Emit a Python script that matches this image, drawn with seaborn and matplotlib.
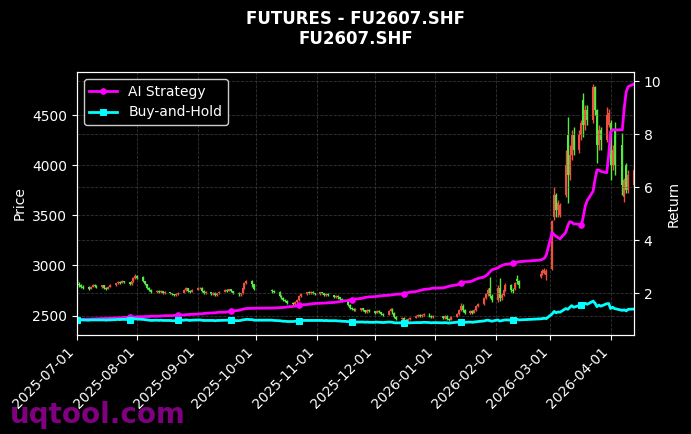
import matplotlib
matplotlib.use("Agg")
import matplotlib.pyplot as plt
import matplotlib.dates as mdates
import seaborn as sns
import pandas as pd
import numpy as np

plt.style.use("dark_background")

# trading days (exchange holidays removed)
holidays = ['2025-10-01', '2025-10-02', '2025-10-03', '2025-10-06', '2025-10-07', '2025-10-08',
            '2026-01-01', '2026-01-02',
            '2026-02-16', '2026-02-17', '2026-02-18', '2026-02-19', '2026-02-20', '2026-02-23',
            '2026-04-06']
dates = pd.bdate_range('2025-07-01', '2026-04-13')
dates = dates[~dates.isin(pd.to_datetime(holidays))]

opens = [
    2850, 2815, 2800, 2790, 2790, 2770, 2790, 2800, 2795, 2785, 2800, 2780, 2770, 2790, 2800, 2820, 2830, 2825, 2840, 2830, 2810, 2840, 2870,
    2890, 2880, 2840, 2810, 2780, 2760, 2740, 2750, 2740, 2745, 2730, 2735, 2725, 2715, 2705, 2720, 2730, 2760, 2775, 2750, 2740,
    2760, 2775, 2780, 2750, 2730, 2735, 2720, 2730, 2710, 2725, 2740, 2760, 2750, 2765, 2745, 2730, 2715, 2725, 2780, 2820, 2840, 2810,
    2760, 2750, 2740, 2700, 2680, 2660, 2650, 2630, 2620, 2640, 2660, 2700, 2720, 2735, 2725, 2740, 2725,
    2720, 2735, 2725, 2710, 2720, 2705, 2690, 2700, 2685, 2670, 2650, 2610, 2580, 2570, 2560, 2560, 2575, 2555, 2540, 2560,
    2545, 2530, 2550, 2535, 2520, 2510, 2550, 2570, 2530, 2490, 2470, 2480, 2460, 2450, 2465, 2480, 2500, 2510, 2495, 2505, 2520, 2500, 2490,
    2495, 2480, 2500, 2470, 2460, 2490, 2520, 2560, 2600, 2560, 2530, 2550, 2530, 2560, 2600, 2620, 2680, 2720, 2780, 2700,
    2660, 2780, 2680, 2710, 2760, 2800, 2760, 2770, 2860, 2840, 2880, 2910, 2920, 2900,
    2960, 3480, 3700, 3550, 3500, 3700, 4300, 3900, 4100, 4300, 4150, 4300, 4650, 4400, 4550, 4450, 4780, 4550, 4200, 4350, 4250, 4400,
    4420, 4000, 4350, 4200, 3680, 4000, 3750, 3800,
]
closes = [
    2815, 2800, 2790, 2780, 2770, 2790, 2800, 2795, 2785, 2800, 2780, 2770, 2790, 2800, 2820, 2830, 2825, 2840, 2830, 2810, 2840, 2870, 2890,
    2870, 2840, 2810, 2780, 2760, 2740, 2750, 2740, 2745, 2730, 2735, 2725, 2715, 2705, 2720, 2730, 2760, 2775, 2750, 2740, 2760,
    2775, 2780, 2750, 2730, 2735, 2720, 2730, 2710, 2725, 2740, 2760, 2750, 2765, 2745, 2730, 2715, 2725, 2780, 2820, 2840, 2810, 2770,
    2750, 2740, 2700, 2680, 2660, 2650, 2630, 2620, 2640, 2660, 2700, 2720, 2735, 2725, 2740, 2725, 2720,
    2735, 2725, 2710, 2720, 2705, 2690, 2700, 2685, 2670, 2650, 2610, 2580, 2570, 2560, 2570, 2575, 2555, 2540, 2560, 2545,
    2530, 2550, 2535, 2520, 2510, 2550, 2570, 2530, 2490, 2470, 2480, 2460, 2450, 2465, 2480, 2500, 2510, 2495, 2505, 2520, 2500, 2490, 2495,
    2480, 2500, 2470, 2460, 2490, 2520, 2560, 2600, 2560, 2530, 2550, 2530, 2560, 2600, 2620, 2680, 2720, 2760, 2700, 2660,
    2780, 2680, 2710, 2760, 2800, 2760, 2750, 2820, 2840, 2800, 2910, 2940, 2950, 2940,
    3440, 3700, 3550, 3620, 3600, 4000, 3900, 4100, 4300, 4150, 4300, 4420, 4400, 4550, 4450, 4780, 4550, 4200, 4350, 4250, 4500, 4520,
    4000, 4150, 4000, 3800, 3850, 3750, 3900, 3950,
]
highs = [
    2860, 2830, 2815, 2800, 2795, 2795, 2810, 2810, 2800, 2805, 2805, 2790, 2795, 2810, 2825, 2840, 2840, 2850, 2845, 2835, 2845, 2880, 2910,
    2900, 2890, 2845, 2815, 2790, 2770, 2760, 2755, 2755, 2750, 2745, 2740, 2730, 2720, 2725, 2735, 2765, 2785, 2780, 2755, 2770,
    2785, 2790, 2785, 2760, 2745, 2740, 2740, 2735, 2730, 2745, 2770, 2770, 2770, 2770, 2750, 2735, 2730, 2790, 2830, 2850, 2850, 2815,
    2770, 2760, 2745, 2710, 2690, 2670, 2660, 2640, 2650, 2670, 2710, 2725, 2740, 2745, 2745, 2745, 2730,
    2740, 2740, 2730, 2725, 2725, 2710, 2705, 2705, 2690, 2675, 2655, 2615, 2590, 2580, 2575, 2580, 2580, 2560, 2565, 2565,
    2550, 2560, 2555, 2540, 2530, 2560, 2580, 2575, 2535, 2495, 2490, 2485, 2470, 2475, 2490, 2510, 2520, 2515, 2515, 2530, 2525, 2505, 2505,
    2500, 2510, 2505, 2480, 2500, 2530, 2570, 2630, 2620, 2570, 2560, 2560, 2570, 2610, 2630, 2690, 2730, 2780, 2880, 2720,
    2800, 2870, 2730, 2770, 2820, 2810, 2780, 2830, 2900, 2850, 2930, 2960, 2970, 2960,
    3450, 3780, 3720, 3650, 3620, 4150, 4480, 4200, 4350, 4380, 4350, 4450, 4720, 4600, 4600, 4810, 4790, 4560, 4400, 4380, 4580, 4560,
    4450, 4200, 4430, 4320, 3870, 4020, 3950, 4000,
]
lows = [
    2800, 2790, 2780, 2770, 2760, 2765, 2785, 2785, 2775, 2780, 2770, 2760, 2765, 2785, 2795, 2810, 2815, 2820, 2820, 2800, 2805, 2835, 2860,
    2860, 2830, 2800, 2770, 2750, 2730, 2730, 2730, 2730, 2720, 2720, 2715, 2705, 2695, 2700, 2710, 2725, 2750, 2740, 2725, 2735,
    2755, 2765, 2740, 2720, 2720, 2705, 2710, 2700, 2700, 2715, 2735, 2740, 2745, 2735, 2720, 2700, 2700, 2720, 2770, 2810, 2790, 2760,
    2730, 2730, 2690, 2670, 2650, 2640, 2620, 2605, 2610, 2630, 2650, 2690, 2710, 2715, 2720, 2715, 2705,
    2710, 2715, 2700, 2700, 2695, 2680, 2680, 2670, 2660, 2640, 2600, 2570, 2560, 2550, 2545, 2550, 2545, 2530, 2530, 2535,
    2520, 2525, 2525, 2505, 2500, 2505, 2545, 2520, 2480, 2455, 2460, 2440, 2425, 2440, 2460, 2475, 2490, 2485, 2490, 2500, 2490, 2480, 2480,
    2465, 2470, 2455, 2450, 2455, 2485, 2510, 2550, 2540, 2520, 2520, 2520, 2525, 2550, 2590, 2610, 2670, 2700, 2680, 2640,
    2640, 2650, 2660, 2700, 2750, 2740, 2730, 2760, 2810, 2780, 2870, 2900, 2910, 2850,
    2950, 3450, 3480, 3480, 3480, 3680, 3620, 3850, 4050, 4100, 4120, 4250, 4280, 4350, 4400, 4420, 4500, 4020, 4150, 4150, 4230, 4380,
    3850, 3950, 3900, 3700, 3630, 3720, 3720, 3780,
]

strategy = [
    1.00, 1.00, 1.01, 1.01, 1.02, 1.02, 1.03, 1.03, 1.03, 1.04, 1.04, 1.05, 1.05, 1.05, 1.06, 1.06, 1.07, 1.07, 1.08, 1.09, 1.09, 1.10, 1.10,
    1.11, 1.11, 1.12, 1.12, 1.12, 1.13, 1.13, 1.13, 1.14, 1.14, 1.15, 1.15, 1.15, 1.16, 1.17, 1.17, 1.18, 1.19, 1.19, 1.20, 1.20,
    1.21, 1.22, 1.22, 1.23, 1.24, 1.25, 1.25, 1.26, 1.27, 1.28, 1.28, 1.29, 1.30, 1.32, 1.33, 1.35, 1.37, 1.39, 1.41, 1.42, 1.43, 1.43,
    1.44, 1.44, 1.45, 1.45, 1.46, 1.47, 1.48, 1.50, 1.51, 1.53, 1.55, 1.56, 1.57, 1.58, 1.59, 1.60, 1.61,
    1.62, 1.62, 1.63, 1.63, 1.64, 1.65, 1.66, 1.67, 1.68, 1.70, 1.72, 1.74, 1.76, 1.77, 1.78, 1.80, 1.82, 1.84, 1.85, 1.86,
    1.87, 1.88, 1.89, 1.90, 1.91, 1.92, 1.93, 1.94, 1.95, 1.96, 1.97, 1.98, 2.00, 2.02, 2.04, 2.06, 2.08, 2.10, 2.12, 2.14, 2.16, 2.18, 2.19,
    2.20, 2.22, 2.24, 2.26, 2.28, 2.31, 2.34, 2.38, 2.40, 2.42, 2.44, 2.46, 2.50, 2.53, 2.56, 2.61, 2.66, 2.72, 2.80, 2.88,
    2.95, 3.00, 3.04, 3.07, 3.09, 3.11, 3.13, 3.15, 3.17, 3.19, 3.25, 3.28, 3.32, 3.45,
    4.30, 4.20, 4.15, 4.10, 4.05, 4.30, 4.55, 4.70, 4.68, 4.62, 4.60, 4.57, 4.90, 5.30, 5.50, 5.85, 6.30, 6.65, 6.65, 6.60, 6.55, 7.20,
    8.10, 8.17, 8.17, 8.17, 9.00, 9.60, 9.80, 9.90,
]
buy_hold = [
    1.00, 0.99, 0.99, 0.99, 0.98, 0.99, 0.99, 0.99, 0.99, 0.99, 0.99, 0.98, 0.99, 0.99, 1.00, 1.01, 1.00, 1.01, 1.01, 1.00, 1.01, 1.02, 1.03,
    1.02, 1.01, 1.00, 0.99, 0.98, 0.97, 0.98, 0.97, 0.98, 0.97, 0.97, 0.97, 0.96, 0.96, 0.97, 0.97, 0.98, 0.99, 0.98, 0.97, 0.98,
    0.99, 0.99, 0.98, 0.97, 0.97, 0.97, 0.97, 0.96, 0.97, 0.97, 0.98, 0.98, 0.98, 0.98, 0.97, 0.96, 0.97, 0.99, 1.00, 1.01, 1.00, 0.98,
    0.98, 0.97, 0.96, 0.95, 0.94, 0.94, 0.93, 0.93, 0.94, 0.94, 0.96, 0.97, 0.97, 0.97, 0.97, 0.97, 0.97,
    0.97, 0.97, 0.96, 0.97, 0.96, 0.96, 0.96, 0.95, 0.95, 0.94, 0.93, 0.92, 0.91, 0.91, 0.91, 0.91, 0.91, 0.90, 0.91, 0.90,
    0.90, 0.91, 0.90, 0.90, 0.89, 0.91, 0.91, 0.90, 0.88, 0.88, 0.88, 0.87, 0.87, 0.88, 0.88, 0.89, 0.89, 0.89, 0.89, 0.90, 0.89, 0.88, 0.89,
    0.88, 0.89, 0.88, 0.87, 0.88, 0.90, 0.91, 0.92, 0.91, 0.90, 0.91, 0.90, 0.91, 0.92, 0.93, 0.95, 0.97, 0.98, 0.96, 0.94,
    0.99, 0.95, 0.96, 0.98, 0.99, 0.98, 0.98, 1.00, 1.01, 0.99, 1.03, 1.04, 1.05, 1.04,
    1.22, 1.31, 1.26, 1.29, 1.28, 1.42, 1.39, 1.46, 1.53, 1.47, 1.53, 1.57, 1.56, 1.62, 1.58, 1.70, 1.62, 1.49, 1.55, 1.51, 1.60, 1.61,
    1.42, 1.47, 1.42, 1.35, 1.37, 1.33, 1.39, 1.40,
]

df = pd.DataFrame({'date': dates, 'open': opens, 'high': highs, 'low': lows, 'close': closes,
                   'AI Strategy': strategy, 'Buy-and-Hold': buy_hold})

UP = '#ee5040'
DOWN = '#55ea3f'

fig, ax = plt.subplots(figsize=(6.91, 4.34), dpi=100)
fig.subplots_adjust(left=0.1114, right=0.9175, top=0.834, bottom=0.228)

# candlesticks (red = up, green = down)
up = df['close'] >= df['open']
colors = np.where(up, UP, DOWN)
ax.vlines(df['date'], df['low'], df['high'], colors=colors, linewidth=1.0)
ax.bar(df['date'], (df['close'] - df['open']).abs(), bottom=df[['open', 'close']].min(axis=1),
       width=1.0, color=colors, linewidth=0)
ax.set_ylabel('Price', fontsize=10)
ax.grid(True, linestyle='--', color='#555555', linewidth=0.6, alpha=0.6)

ax2 = ax.twinx()
sns.lineplot(data=df, x='date', y='AI Strategy', ax=ax2, color='#ff00ff', linewidth=2,
             marker='o', markersize=4, markevery=19, markeredgecolor='#ff00ff', label='AI Strategy')
sns.lineplot(data=df, x='date', y='Buy-and-Hold', ax=ax2, color='#00ffff', linewidth=2,
             marker='s', markersize=4, markevery=19, markeredgecolor='#00ffff', label='Buy-and-Hold')
ax2.set_ylabel('Return', fontsize=10)
ax2.grid(True, linestyle='--', color='#555555', linewidth=0.6, alpha=0.6)
ax2.legend(loc='upper left', facecolor='black', edgecolor='#cccccc', fontsize=10, framealpha=1)

ax.set_xlim(df['date'].iloc[0], df['date'].iloc[-1])
ax.xaxis.set_major_locator(mdates.MonthLocator())
ax.xaxis.set_major_formatter(mdates.DateFormatter('%Y-%m-%d'))
ax2.set_xlabel('')
ax.set_xlabel('')
for lab in ax.get_xticklabels():
    lab.set_rotation(45)
    lab.set_ha('right')
ax.tick_params(labelsize=10)
ax2.tick_params(labelsize=10)

fig.suptitle('FUTURES - FU2607.SHF\nFU2607.SHF', x=0.5145, y=0.978, fontsize=12, fontweight='bold')
fig.text(0.014, 0.025, 'uqtool.com', fontsize=20, fontweight='bold', color='purple', zorder=10)

plt.savefig('out.png', dpi=100)
